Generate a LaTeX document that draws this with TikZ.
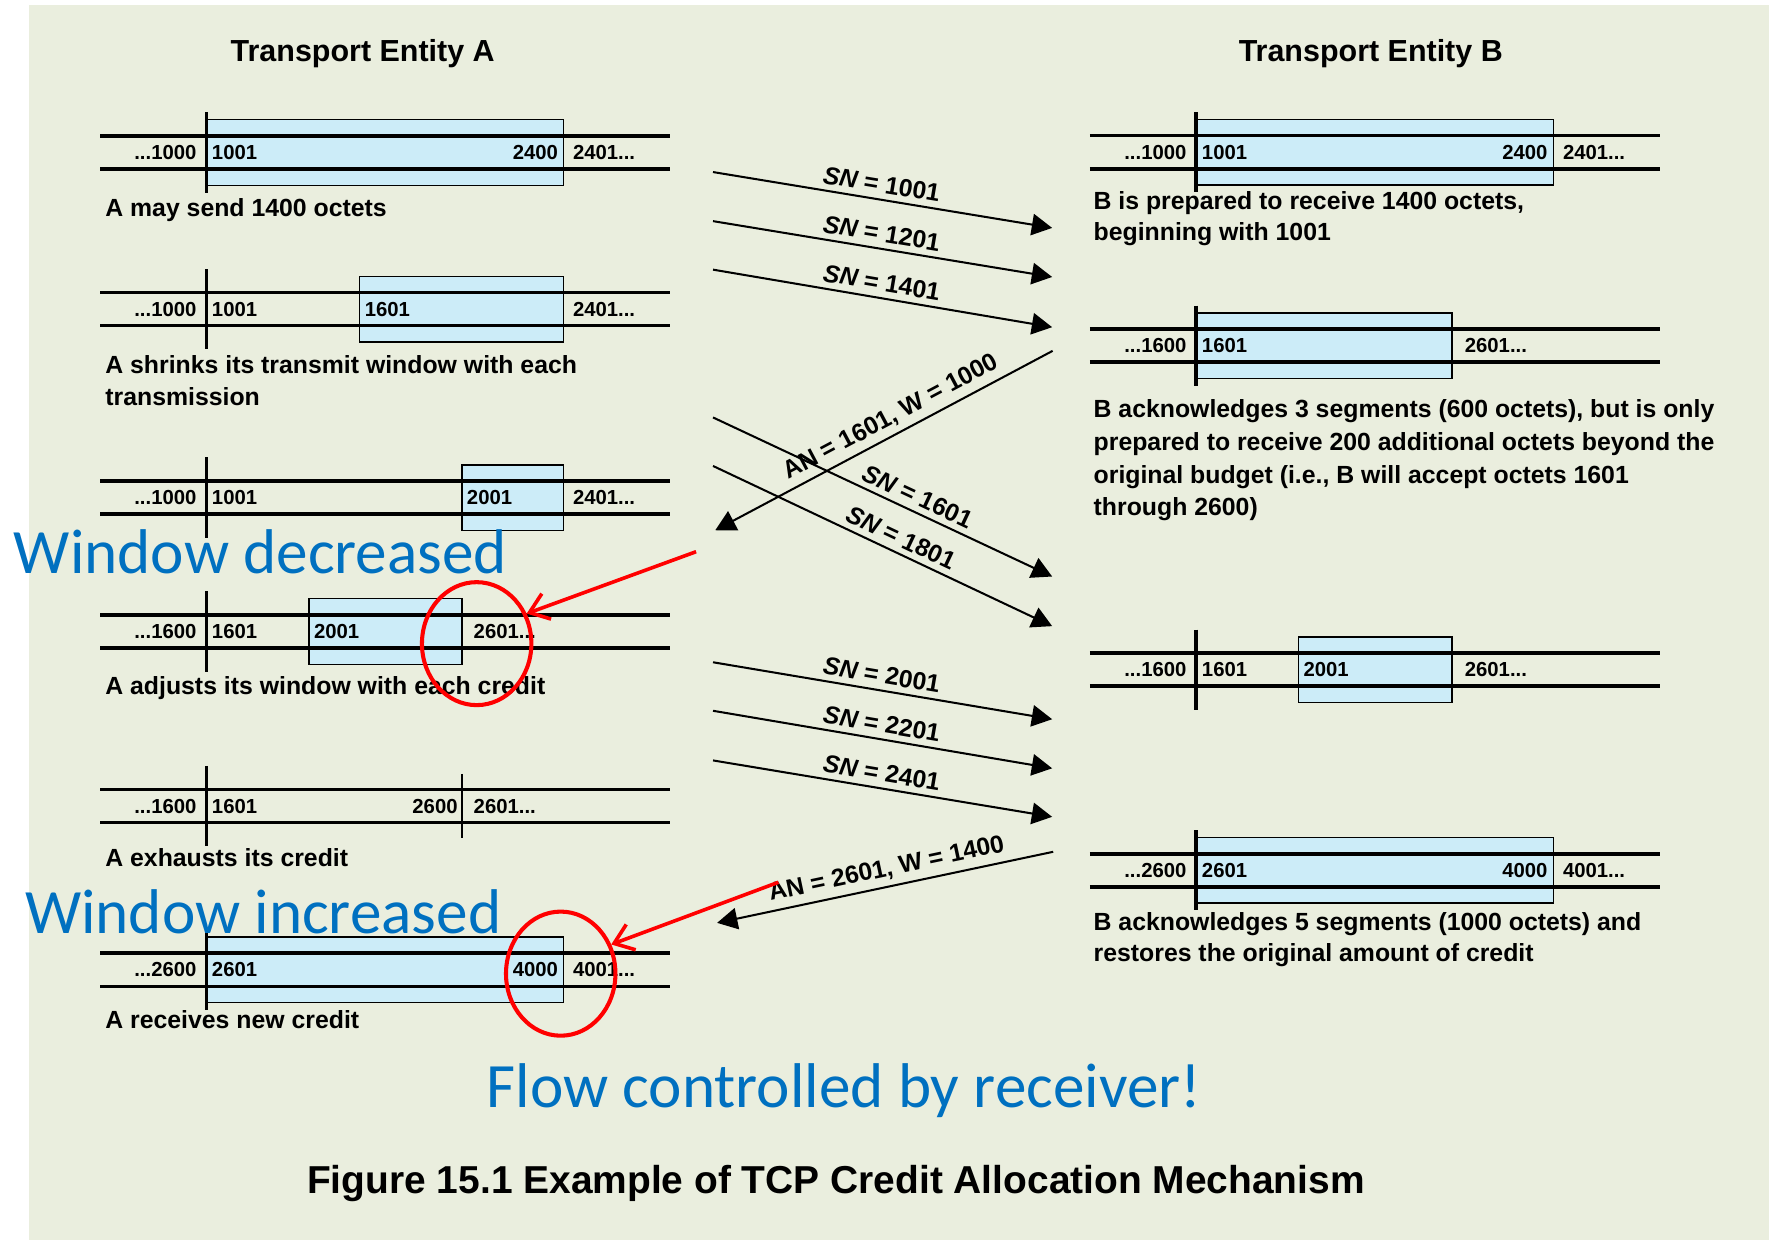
\documentclass[tikz,border=0pt]{standalone}
\usepackage{fontspec}
\setmainfont{Liberation Sans}
\newfontfamily\notefont{Carlito}
\usetikzlibrary{arrows.meta,shapes.geometric}

\definecolor{bg}{RGB}{234,238,222}
\definecolor{boxfill}{RGB}{204,236,248}
\definecolor{noteblue}{RGB}{0,112,192}

% two rails of a sequence-number space, plus the bar marking the last acknowledged octet
\newcommand\bufrow[2]{% #1 = left end of the rails, #2 = centre line
  \draw[rail] (#1,{#2-14.7}) -- ({#1+505},{#2-14.7});
  \draw[rail] (#1,{#2+14.7}) -- ({#1+505},{#2+14.7});
  \draw[ackbar] ({#1+94},{#2-35.5}) -- ({#1+94},{#2+35.5});
}
% shaded window: #1 = left, #2 = right, #3 = centre line
\newcommand\bufwin[3]{%
  \filldraw[winbox] (#1,{#3-29}) rectangle (#2,{#3+29});
}
% number label: #1 name, #2 anchor, #3 x, #4 baseline, #5 text
\newcommand\numlab[5]{\node[numtxt,anchor=#2] (#1) at (#3,#4) {#5};}

\begin{document}
\begin{tikzpicture}[x=0.5pt,y=-0.5pt,
  rail/.style={line width=1.5pt},
  ackbar/.style={line width=1.6pt},
  winbox/.style={draw=black,line width=0.6pt,fill=boxfill},
  numtxt/.style={font=\bfseries\fontsize{9}{10.8}\selectfont,inner sep=0pt},
  captxt/.style={font=\bfseries\fontsize{11}{13}\selectfont,inner sep=0pt,anchor=base west},
  headtxt/.style={font=\bfseries\fontsize{13.5}{16}\selectfont,inner sep=0pt,anchor=base},
  msg/.style={line width=0.9pt,-{Triangle[length=9pt,width=9.5pt]}},
  msglbl/.style={font=\bfseries\fontsize{11}{13}\selectfont,sloped,above,inner sep=2.5pt},
  notetxt/.style={font=\notefont\fontsize{28}{32}\selectfont,text=noteblue,inner sep=0pt,anchor=base west},
  hlring/.style={draw=red,line width=1.8pt,ellipse,inner sep=0pt},
  redptr/.style={draw=red,line width=1.6pt,-{Straight Barb[length=8pt,width=12pt]}},
]
\useasboundingbox (0,0) rectangle (1568,1099);
\fill[white] (0,0) rectangle (1568,1099);
\fill[bg] (25.7,4.2) rectangle (1568,1099);

% headings
\node[headtxt] (tA) at (321.5,54.1) {Transport Entity A};
\node[headtxt] (tB) at (1215,54.1) {Transport Entity B};

% ---------------- sender A ----------------
% A1
\bufwin{183.2}{499.5}{135.2}
\bufrow{89}{135.2}
\numlab{a1l}{base east}{174.5}{141.6}{...1000}
\numlab{a1b}{base west}{187.5}{141.6}{1001}
\numlab{a1e}{base east}{495}{141.6}{2400}
\numlab{a1r}{base west}{507.5}{141.6}{2401...}
\node[captxt] (ca1) at (93,191.5) {A may send 1400 octets};

% A2
\bufwin{318.5}{499.5}{274}
\bufrow{89}{274}
\numlab{a2l}{base east}{174.5}{280.4}{...1000}
\numlab{a2b}{base west}{187.5}{280.4}{1001}
\numlab{a2w}{base west}{323}{280.4}{1601}
\numlab{a2r}{base west}{507.5}{280.4}{2401...}
\node[captxt] (ca2a) at (93,331) {A shrinks its transmit window with each};
\node[captxt] (ca2b) at (93,359) {transmission};

% A3
\bufwin{409.6}{499.5}{441}
\bufrow{89}{441}
\numlab{a3l}{base east}{174.5}{447.4}{...1000}
\numlab{a3b}{base west}{187.5}{447.4}{1001}
\numlab{a3w}{base west}{413.5}{447.4}{2001}
\numlab{a3r}{base west}{507.5}{447.4}{2401...}

% A4
\bufwin{273.9}{409.6}{559.7}
\bufrow{89}{559.7}
\numlab{a4l}{base east}{174.5}{566.1}{...1600}
\numlab{a4b}{base west}{187.5}{566.1}{1601}
\numlab{a4w}{base west}{278}{566.1}{2001}
\numlab{a4r}{base west}{419.5}{566.1}{2601...}
\node[captxt] (ca4) at (93,616) {A adjusts its window with each credit};

% A5
\bufrow{89}{714.4}
\draw[line width=0.9pt] (409.6,686) -- (409.6,743);
\numlab{a5l}{base east}{174.5}{720.8}{...1600}
\numlab{a5b}{base west}{187.5}{720.8}{1601}
\numlab{a5e}{base east}{406}{720.8}{2600}
\numlab{a5r}{base west}{419.5}{720.8}{2601...}
\node[captxt] (ca5) at (93,768) {A exhausts its credit};

% A6
\bufwin{183.2}{499.5}{859.5}
\bufrow{89}{859.5}
\numlab{a6l}{base east}{174.5}{865.9}{...2600}
\numlab{a6b}{base west}{187.5}{865.9}{2601}
\numlab{a6e}{base east}{495}{865.9}{4000}
\numlab{a6r}{base west}{507.5}{865.9}{4001...}
\node[captxt] (ca6) at (93,911.5) {A receives new credit};

% ---------------- receiver B ----------------
% B1
\bufwin{1061}{1377}{135}
\bufrow{966}{135}
\numlab{b1l}{base east}{1052}{141.4}{...1000}
\numlab{b1b}{base west}{1065}{141.4}{1001}
\numlab{b1e}{base east}{1372}{141.4}{2400}
\numlab{b1r}{base west}{1385}{141.4}{2401...}
\node[captxt] (cb1a) at (969,185.6) {B is prepared to receive 1400 octets,};
\node[captxt] (cb1b) at (969,213.4) {beginning with 1001};

% B2
\bufwin{1061}{1287}{306.3}
\bufrow{966}{306.3}
\numlab{b2l}{base east}{1052}{312.7}{...1600}
\numlab{b2b}{base west}{1065}{312.7}{1601}
\numlab{b2r}{base west}{1298}{312.7}{2601...}
\node[captxt] (cb2a) at (969,370) {B acknowledges 3 segments (600 octets), but is only};
\node[captxt] (cb2b) at (969,399) {prepared to receive 200 additional octets beyond the};
\node[captxt] (cb2c) at (969,428.5) {original budget (i.e., B will accept octets 1601};
\node[captxt] (cb2d) at (969,456.6) {through 2600)};

% B3
\bufwin{1151}{1287}{593.5}
\bufrow{966}{593.5}
\numlab{b3l}{base east}{1052}{599.9}{...1600}
\numlab{b3b}{base west}{1065}{599.9}{1601}
\numlab{b3w}{base west}{1155}{599.9}{2001}
\numlab{b3r}{base west}{1298}{599.9}{2601...}

% B4
\bufwin{1061}{1377}{771.5}
\bufrow{966}{771.5}
\numlab{b4l}{base east}{1052}{777.9}{...2600}
\numlab{b4b}{base west}{1065}{777.9}{2601}
\numlab{b4e}{base east}{1372}{777.9}{4000}
\numlab{b4r}{base west}{1385}{777.9}{4001...}
\node[captxt] (cb4a) at (969,824.5) {B acknowledges 5 segments (1000 octets) and};
\node[captxt] (cb4b) at (969,852.6) {restores the original amount of credit};

% ---------------- segments and acknowledgements ----------------
\coordinate (m1s) at (632,152.5);  \coordinate (m1t) at (932.6,202);
\coordinate (m2s) at (632,196);    \coordinate (m2t) at (932.6,245.5);
\coordinate (m3s) at (632,239);    \coordinate (m3t) at (932.6,290);
\coordinate (k1s) at (933,311);    \coordinate (k1t) at (634,470);
\coordinate (m4s) at (632,370);    \coordinate (m4t) at (932.6,511);
\coordinate (m5s) at (632,413);    \coordinate (m5t) at (932.6,555);
\coordinate (m6s) at (632,587);    \coordinate (m6t) at (932.6,637.5);
\coordinate (m7s) at (632,630);    \coordinate (m7t) at (932.6,681);
\coordinate (m8s) at (632,674);    \coordinate (m8t) at (932.6,724);
\coordinate (k2s) at (933.5,755);  \coordinate (k2t) at (635.6,818);

\draw[msg] (m1s) -- (m1t) node[msglbl,pos=0.49] (lm1) {{\itshape SN} = 1001};
\draw[msg] (m2s) -- (m2t) node[msglbl,pos=0.49] (lm2) {{\itshape SN} = 1201};
\draw[msg] (m3s) -- (m3t) node[msglbl,pos=0.49] (lm3) {{\itshape SN} = 1401};
\draw[msg] (k1s) -- (k1t) node[msglbl,pos=0.455] (lk1) {AN = 1601, W = 1000};
\draw[msg] (m4s) -- (m4t) node[msglbl,pos=0.585] (lm4) {{\itshape SN} = 1601};
\draw[msg] (m5s) -- (m5t) node[msglbl,pos=0.535] (lm5) {{\itshape SN} = 1801};
\draw[msg] (m6s) -- (m6t) node[msglbl,pos=0.49] (lm6) {{\itshape SN} = 2001};
\draw[msg] (m7s) -- (m7t) node[msglbl,pos=0.49] (lm7) {{\itshape SN} = 2201};
\draw[msg] (m8s) -- (m8t) node[msglbl,pos=0.49] (lm8) {{\itshape SN} = 2401};
\draw[msg] (k2s) -- (k2t) node[msglbl,pos=0.485] (lk2) {AN = 2601, W = 1400};

% ---------------- annotations ----------------
\node[hlring,minimum width=48.5pt,minimum height=54.5pt] (e1) at (422.5,570.5) {};
\node[hlring,minimum width=48.5pt,minimum height=55pt] (e2) at (497,863) {};
\coordinate (p1s) at (617,489);
\coordinate (p2s) at (690,782);
\draw[redptr] (p1s) -- (e1.31);
\draw[redptr] (p2s) -- (e2.30);

\node[notetxt] (n1) at (11.9,508) {Window decreased};
\node[notetxt] (n2) at (21.8,827.4) {Window increased};
\node[notetxt] (n3) at (431,982) {Flow controlled by receiver!};

\node[font=\bfseries\fontsize{17.25}{20}\selectfont,inner sep=0pt,anchor=base] (fig) at (741,1057.6)
  {Figure 15.1 Example of TCP Credit Allocation Mechanism};
\end{tikzpicture}
\end{document}
